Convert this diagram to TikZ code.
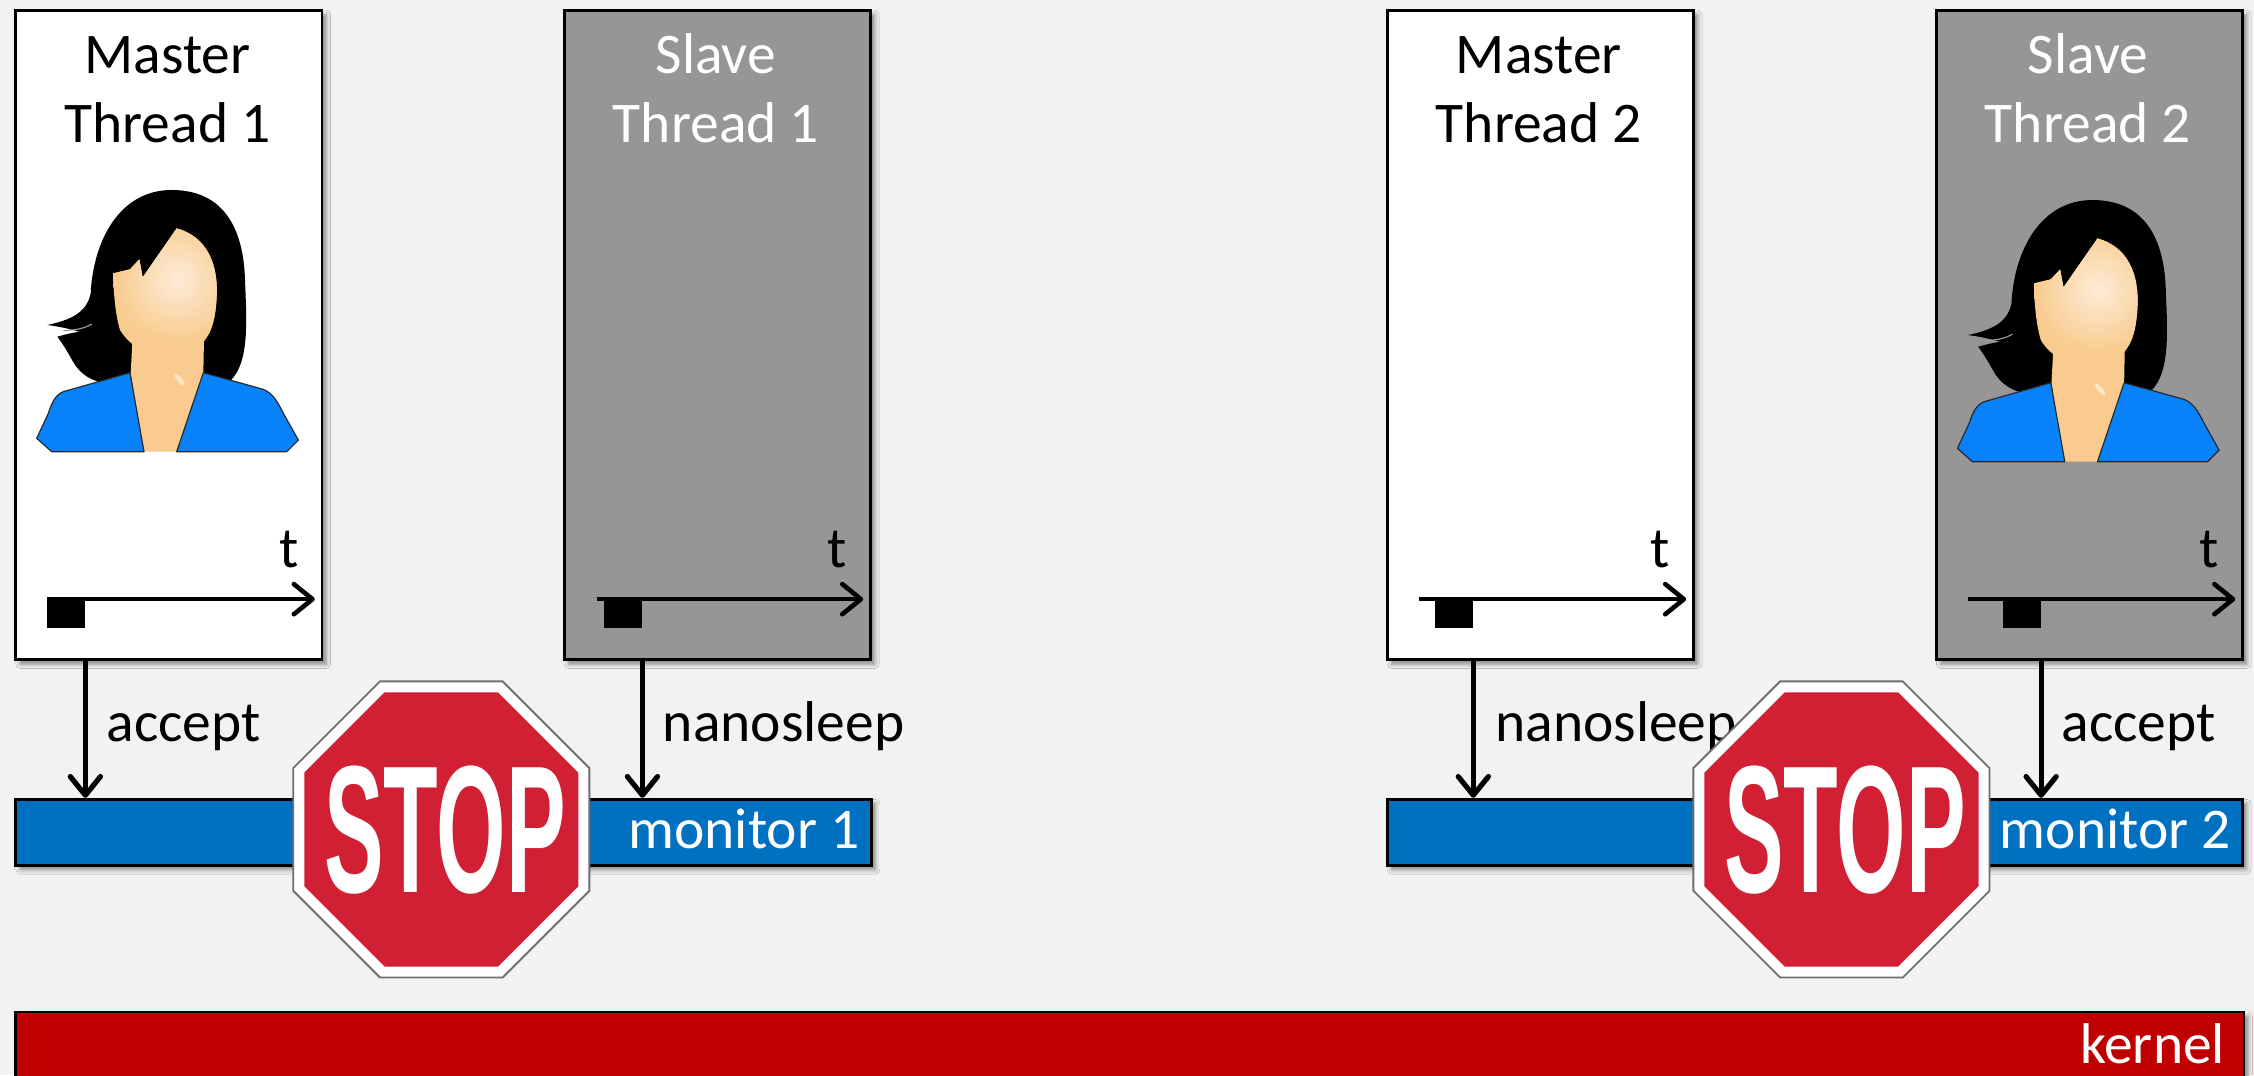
\documentclass[tikz,border=0pt]{standalone}
\usepackage{fontspec}
\usepackage{graphicx}
\setmainfont{Carlito}
\newfontfamily\signfont{Liberation Sans}
\usetikzlibrary{arrows.meta,shadows.blur}

\definecolor{canvas}{RGB}{242,242,242}
\definecolor{slavegray}{RGB}{150,150,150}
\definecolor{monblue}{RGB}{0,112,192}
\definecolor{kernred}{RGB}{192,0,0}
\definecolor{signred}{RGB}{209,31,51}
\definecolor{signrim}{RGB}{110,110,110}
\definecolor{skin}{RGB}{249,203,142}
\definecolor{skinlight}{RGB}{253,236,216}
\definecolor{shirt}{RGB}{8,130,250}

\tikzset{
  softshadow/.style={blur shadow={shadow xshift=3pt, shadow yshift=-3pt,
      shadow blur radius=3pt, shadow opacity=45}},
  lane/.style={draw=black, line width=2pt, minimum width=213pt,
      minimum height=452pt, anchor=north west, inner sep=0pt, softshadow},
  masterlane/.style={lane, fill=white},
  slavelane/.style={lane, fill=slavegray},
  txt/.style={font=\fontsize{40}{48}\selectfont, inner sep=0pt},
  tick/.style={fill=black, minimum width=26.5pt, minimum height=22pt,
      anchor=north west, inner sep=0pt},
  timeline/.style={line width=3.2pt,
      -{Straight Barb[length=13pt, width=21pt, round]}},
  call/.style={line width=3.6pt,
      -{Straight Barb[length=13pt, width=21pt, round]}},
  bar/.style={draw=black, line width=2pt, anchor=north west, inner sep=0pt,
      minimum height=46pt, softshadow},
}

% faceless woman avatar, drawn in its own 870x870 frame
\newcommand\avatar[2]{%
\begin{scope}[shift={(#1,#2)}, scale=0.2319, line join=round]
  % hair
  \fill[black] (455,30) .. controls (600,30) and (670,130) .. (675,300)
    .. controls (680,430) and (690,560) .. (620,612) -- (300,612)
    .. controls (230,615) and (190,590) .. (165,555)
    .. controls (150,530) and (135,500) .. (112,470)
    .. controls (140,462) and (160,458) .. (178,455)
    .. controls (150,447) and (120,440) .. (82,435)
    .. controls (150,420) and (200,400) .. (212,340)
    .. controls (220,180) and (300,30) .. (455,30) -- cycle;
  \draw[white!60!black, line width=0.8pt] (130,452) .. controls (170,450) and (195,445) .. (215,432);
  % neck
  \fill[skin] (338,470) -- (552,470) -- (550,580) -- (470,815) -- (370,815) -- (332,580) -- cycle;
  % face
  \fill[skin] (470,145) .. controls (560,170) and (595,250) .. (590,350)
    .. controls (585,450) and (560,510) .. (470,530)
    .. controls (390,535) and (330,500) .. (300,450)
    .. controls (285,400) and (280,330) .. (280,280)
    -- (330,268) -- (358,238) -- (368,292) -- cycle;
  \begin{scope}
    \clip (470,145) .. controls (560,170) and (595,250) .. (590,350)
      .. controls (585,450) and (560,510) .. (470,530)
      .. controls (390,535) and (330,500) .. (300,450)
      .. controls (285,400) and (280,330) .. (280,280)
      -- (330,268) -- (358,238) -- (368,292) -- cycle;
    \shade[inner color=skinlight, outer color=skin] (470,300) circle (190);
  \end{scope}
  \fill[white, opacity=0.55, rotate around={-50:(478,598)}] (478,598) ellipse (22 and 7);
  % shirt
  \filldraw[fill=shirt, draw=black!85, line width=0.8pt]
    (330,578) -- (130,635) .. controls (105,645) and (95,670) .. (85,700)
    -- (50,775) -- (95,815) -- (372,815) -- cycle;
  \filldraw[fill=shirt, draw=black!85, line width=0.8pt]
    (550,578) -- (730,628) .. controls (760,640) and (775,670) .. (790,700)
    -- (835,780) -- (800,815) -- (470,815) -- cycle;
\end{scope}}

% octagonal stop sign centred on a named coordinate
\newcommand\stopsign[1]{%
\begin{scope}[shift={(#1)}]
  \filldraw[fill=white, draw=signrim, line width=1.3pt]
    (22.5:111.5) -- (67.5:111.5) -- (112.5:111.5) -- (157.5:111.5) --
    (202.5:111.5) -- (247.5:111.5) -- (292.5:111.5) -- (337.5:111.5) -- cycle;
  \fill[signred]
    (22.5:103.2) -- (67.5:103.2) -- (112.5:103.2) -- (157.5:103.2) --
    (202.5:103.2) -- (247.5:103.2) -- (292.5:103.2) -- (337.5:103.2) -- cycle;
  \node[inner sep=0pt, text=white] at (2.5,0.5)
    {\signfont\bfseries\resizebox{168pt}{88pt}{STOP}};
\end{scope}}

\begin{document}
\begin{tikzpicture}[x=1pt, y=-1pt]
  \fill[canvas, use as bounding box] (0,0) rectangle (1568,748);
  \begin{scope}
  \clip (0,0) rectangle (1568,748);

  % thread lanes
  \node[masterlane] (m1) at (10,6) {};
  \node[slavelane]  (s1) at (391.5,6) {};
  \node[masterlane] (m2) at (964,6) {};
  \node[slavelane]  (s2) at (1346,6) {};

  \node[txt, anchor=base] (m1n1) at (116.5,51) {Master};
  \node[txt, anchor=base] (m1n2) at (116.5,99) {Thread 1};
  \node[txt, anchor=base, text=white] (s1n1) at (498,51) {Slave};
  \node[txt, anchor=base, text=white] (s1n2) at (498,99) {Thread 1};
  \node[txt, anchor=base] (m2n1) at (1070.5,51) {Master};
  \node[txt, anchor=base] (m2n2) at (1070.5,99) {Thread 2};
  \node[txt, anchor=base, text=white] (s2n1) at (1452.5,51) {Slave};
  \node[txt, anchor=base, text=white] (s2n2) at (1452.5,99) {Thread 2};

  \avatar{13.91}{125.2}
  \avatar{1350.1}{132.2}

  % time axes
  \coordinate (m1t0) at (33,416.8);    \coordinate (m1t1) at (219,416.8);
  \coordinate (s1t0) at (415,416.8);   \coordinate (s1t1) at (600.5,416.8);
  \coordinate (m2t0) at (987,416.8);   \coordinate (m2t1) at (1173,416.8);
  \coordinate (s2t0) at (1369,416.8);  \coordinate (s2t1) at (1555,416.8);
  \draw[timeline] (m1t0) -- (m1t1);
  \draw[timeline] (s1t0) -- (s1t1);
  \draw[timeline] (m2t0) -- (m2t1);
  \draw[timeline] (s2t0) -- (s2t1);
  \node[txt, anchor=base east] (m1t) at (208,395) {t};
  \node[txt, anchor=base east] (s1t) at (589.5,395) {t};
  \node[txt, anchor=base east] (m2t) at (1162,395) {t};
  \node[txt, anchor=base east] (s2t) at (1544,395) {t};
  \node[tick] (m1k) at (32.5,415) {};
  \node[tick] (s1k) at (420,415) {};
  \node[tick] (m2k) at (998,415) {};
  \node[tick] (s2k) at (1393,415) {};

  % monitors
  \node[bar, fill=monblue, minimum width=595pt] (mon1) at (10,555) {};
  \node[bar, fill=monblue, minimum width=595pt] (mon2) at (964,555) {};
  \node[txt, anchor=base east, text=white] (mon1t) at (598,590) {monitor 1};
  \node[txt, anchor=base east, text=white] (mon2t) at (1552,590) {monitor 2};

  % system calls
  \draw[call] (m1.south -| m1k.east) -- (mon1.north -| m1k.east);
  \draw[call] (s1.south -| s1k.east) -- (mon1.north -| s1k.east);
  \draw[call] (m2.south -| m2k.east) -- (mon2.north -| m2k.east);
  \draw[call] (s2.south -| s2k.east) -- (mon2.north -| s2k.east);
  \node[txt, anchor=base west] (m1c) at (74,516) {accept};
  \node[txt, anchor=base west] (s1c) at (461,516) {nanosleep};
  \node[txt, anchor=base west] (m2c) at (1040,516) {nanosleep};
  \node[txt, anchor=base west] (s2c) at (1434,516) {accept};

  % blocked monitors
  \coordinate (stop1) at (307,577);
  \coordinate (stop2) at (1281,577);
  \stopsign{stop1}
  \stopsign{stop2}

  % kernel
  \node[bar, fill=kernred, minimum width=1550pt, minimum height=60pt] (kern) at (10,703) {};
  \node[txt, anchor=base east, text=white] (kernt) at (1548,739.5) {kernel};
  \end{scope}
\end{tikzpicture}
\end{document}
